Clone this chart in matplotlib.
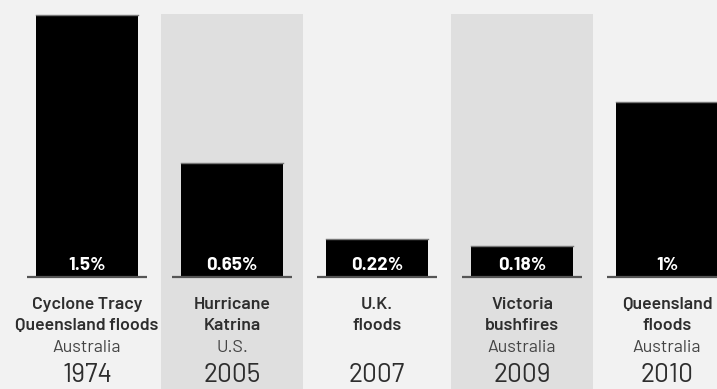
import matplotlib
matplotlib.use("Agg")
import matplotlib.pyplot as plt
from matplotlib.patches import Rectangle

events_line1 = ["Cyclone Tracy", "Hurricane", "U.K.", "Victoria", "Queensland"]
events_line2 = ["Queensland floods", "Katrina", "floods", "bushfires", "floods"]
countries = ["Australia", "U.S.", "", "Australia", "Australia"]
years = ["1974", "2005", "2007", "2009", "2010"]
values = [1.5, 0.65, 0.22, 0.18, 1.0]
value_labels = ["1.5%", "0.65%", "0.22%", "0.18%", "1%"]

W, H = 717, 389
fig = plt.figure(figsize=(W / 100, H / 100), dpi=100)
fig.patch.set_facecolor("#f2f2f2")
ax = fig.add_axes([0, 0, 1, 1])
ax.set_facecolor("#f2f2f2")

x0_px, step_px = 87, 145
base_px, unit_px = 277, 174.7
ax.set_xlim(-x0_px / step_px, (W - x0_px) / step_px)
ax.set_ylim(-(H - base_px) / unit_px, base_px / unit_px)
ax.axis("off")

def ypx(py):
    return (base_px - py) / unit_px

fam = ["Barlow", "Barlow Semi Condensed", "DejaVu Sans"]

n = len(values)
xs = list(range(n))
ybot = ax.get_ylim()[0]
for i in xs:
    if i % 2 == 1:
        ax.add_patch(Rectangle((i - 0.49, ybot), 0.98, ypx(14) - ybot,
                               facecolor="#dfdfdf", edgecolor="none", zorder=0))

ax.bar(xs, values, width=0.70, color="#000000", edgecolor="none", zorder=2)
for i, v in zip(xs, values):
    ax.plot([i - 0.35, i + 0.35], [v, v], color="#777777", lw=1.0, zorder=3)
    ax.plot([i - 0.414, i + 0.414], [0, 0], color="#555555", lw=1.6, zorder=3,
            solid_capstyle="butt")

for i in xs:
    ax.text(i, ypx(270), value_labels[i], color="white", ha="center", va="baseline",
            fontsize=13.5, fontweight="bold", family=fam, zorder=4)
    ax.text(i, ypx(309), events_line1[i], color="#2e2e2e", ha="center", va="baseline",
            fontsize=12.8, fontweight="semibold", family=fam)
    ax.text(i, ypx(330), events_line2[i], color="#2e2e2e", ha="center", va="baseline",
            fontsize=12.8, fontweight="semibold", family=fam)
    if countries[i]:
        ax.text(i, ypx(352), countries[i], color="#444444", ha="center", va="baseline",
                fontsize=12.8, fontweight="normal", family=fam)
    ax.text(i, ypx(382), years[i], color="#2e2e2e", ha="center", va="baseline",
            fontsize=19, fontweight="normal", family=fam)

fig.savefig("out.png", dpi=100, facecolor=fig.get_facecolor())
